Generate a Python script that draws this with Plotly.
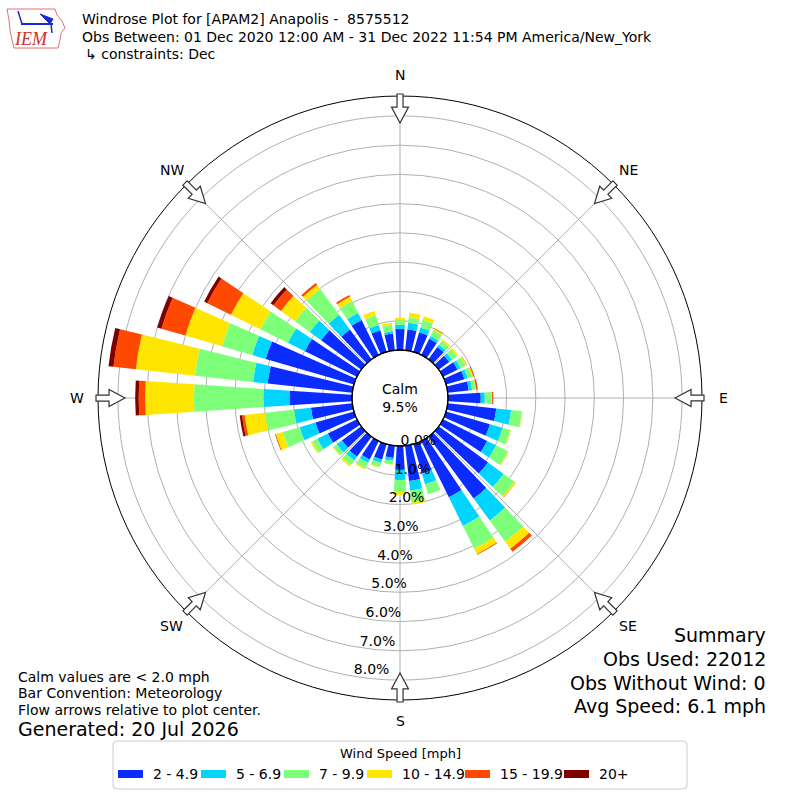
import math
import plotly.graph_objects as go

# Wind rose for Anapolis (APAM2), December obs 2020-2022
directions = list(range(0, 360, 10))
speed_bins = ["2 - 4.9", "5 - 6.9", "7 - 9.9", "10 - 14.9", "15 - 19.9", "20+"]
bin_colors = ["#0a2cff", "#00d4ff", "#7dff7a", "#ffe600", "#ff4800", "#800000"]

# percent of observations per 10 degree sector (0, 10, ..., 350)
pct_2_5 = [0.72, 0.72, 0.70, 0.62, 0.52, 0.45, 0.55, 0.65, 0.72, 1.12,
           1.67, 1.56, 1.68, 2.09, 2.62, 2.14, 1.05, 1.21, 0.82, 0.42,
           0.55, 0.70, 0.85, 0.82, 1.11, 1.37, 1.42, 2.14, 2.91, 3.14,
           1.98, 1.70, 1.26, 1.33, 0.77, 0.58]
pct_5_7 = [0.14, 0.23, 0.17, 0.10, 0.10, 0.12, 0.12, 0.12, 0.12, 0.14,
           0.51, 0.45, 0.34, 0.66, 0.93, 1.09, 0.38, 0.33, 0.34, 0.10,
           0.12, 0.13, 0.15, 0.22, 0.40, 0.56, 0.58, 0.89, 0.50, 0.48,
           0.65, 0.48, 0.62, 0.27, 0.19, 0.08]
pct_7_10 = [0.16, 0.18, 0.27, 0.22, 0.16, 0.20, 0.18, 0.15, 0.12, 0.21,
            0.37, 0.28, 0.46, 0.46, 0.89, 0.87, 0.36, 0.40, 0.40, 0.12,
            0.15, 0.20, 0.20, 0.14, 0.19, 0.60, 1.00, 2.37, 2.00, 1.08,
            1.05, 0.62, 1.10, 0.45, 0.34, 0.22]
pct_10_15 = [0.08, 0.16, 0.13, 0.06, 0.06, 0.06, 0.05, 0.05, 0.02, 0.04,
             0.02, 0.02, 0.02, 0.05, 0.30, 0.20, 0.00, 0.07, 0.11, 0.01,
             0.03, 0.05, 0.06, 0.03, 0.06, 0.25, 0.70, 1.67, 2.03, 1.30,
             1.12, 0.60, 0.17, 0.17, 0.16, 0.07]
pct_15_20 = [0.00, 0.00, 0.00, 0.02, 0.00, 0.00, 0.01, 0.03, 0.04, 0.04,
             0.00, 0.00, 0.00, 0.01, 0.13, 0.03, 0.00, 0.00, 0.00, 0.00,
             0.00, 0.00, 0.00, 0.00, 0.00, 0.03, 0.09, 0.22, 0.77, 0.85,
             0.90, 0.32, 0.08, 0.06, 0.00, 0.00]
pct_20_up = [0.00, 0.00, 0.00, 0.00, 0.00, 0.00, 0.00, 0.00, 0.01, 0.00,
             0.00, 0.00, 0.00, 0.00, 0.00, 0.00, 0.00, 0.00, 0.00, 0.00,
             0.00, 0.00, 0.00, 0.00, 0.00, 0.00, 0.08, 0.12, 0.17, 0.15,
             0.12, 0.12, 0.00, 0.00, 0.00, 0.00]
series = [pct_2_5, pct_5_7, pct_7_10, pct_10_15, pct_15_20, pct_20_up]

radial_ticks = [0, 1, 2, 3, 4, 5, 6, 7, 8]
compass = ["N", "NE", "E", "SE", "S", "SW", "W", "NW"]
calm_pct = 9.5

FONT = "DejaVu Sans"
W = H = 800
CX, CY = 400, 398      # plot centre in pixels
R_OUT = 302            # outer circle radius
R_HOLE = 48            # calm circle radius


def px(x):
    return x / W


def py(y):
    return 1 - y / H


def note(x, y, text, size, xanchor="center", **kw):
    return dict(x=px(x), y=py(y), xref="paper", yref="paper", text=text,
                showarrow=False, xanchor=xanchor, yanchor="middle",
                font=dict(size=size, **kw))


fig = go.Figure()
for name, color, vals in zip(speed_bins, bin_colors, series):
    fig.add_trace(go.Barpolar(
        r=vals, theta=directions, name=name, width=7.6,
        marker=dict(color=color, line=dict(width=0)),
        showlegend=False, hoverinfo="skip",
    ))

fig.update_layout(
    width=W, height=H,
    margin=dict(l=0, r=0, t=0, b=0),
    paper_bgcolor="white",
    font=dict(family=FONT, size=13, color="black"),
    polar=dict(
        domain=dict(x=[px(CX - R_OUT), px(CX + R_OUT)],
                    y=[py(CY + R_OUT), py(CY - R_OUT)]),
        hole=R_HOLE / R_OUT,
        bgcolor="white",
        barmode="stack",
        radialaxis=dict(
            range=[0, 8.68], tickvals=radial_ticks,
            # trailing blank line lifts each label a little above its ring
            ticktext=["%.1f%%<br> " % t for t in radial_ticks],
            showline=False, ticks="", angle=-101.5, side="counterclockwise",
            tickangle=-101.5,
            gridcolor="#b0b0b0", gridwidth=1,
            tickfont=dict(size=14, color="black"),
        ),
        angularaxis=dict(
            direction="clockwise", rotation=90,
            tickvals=list(range(0, 360, 45)), showticklabels=False, ticks="",
            gridcolor="#b0b0b0", gridwidth=1,
            showline=True, linecolor="black", linewidth=1,
        ),
    ),
)

shapes = []
annotations = []

# calm circle
shapes.append(dict(type="circle", xref="paper", yref="paper",
                   x0=px(CX - R_HOLE), x1=px(CX + R_HOLE),
                   y0=py(CY + R_HOLE), y1=py(CY - R_HOLE),
                   line=dict(color="black", width=1.3), fillcolor="rgba(0,0,0,0)"))
annotations.append(note(CX, CY, "Calm<br>%.1f%%" % calm_pct, 14))


# flow arrows and compass labels
def arrow_path(deg):
    t = math.radians(deg)
    ux, uy = math.sin(t), -math.cos(t)      # outward
    vx, vy = math.cos(t), math.sin(t)       # sideways
    pts = [(304, -3), (291, -3), (291, -8.5), (275, 0), (291, 8.5), (291, 3), (304, 3)]
    coords = []
    for r, v in pts:
        x = CX + r * ux + v * vx
        y = CY + r * uy + v * vy
        coords.append("%.4f,%.4f" % (px(x), py(y)))
    return "M" + " L".join(coords) + " Z"


for i, lab in enumerate(compass):
    deg = i * 45
    shapes.append(dict(type="path", xref="paper", yref="paper", path=arrow_path(deg),
                       fillcolor="white", line=dict(color="#333333", width=1.2)))
    t = math.radians(deg)
    annotations.append(note(CX + 323 * math.sin(t), CY - 323 * math.cos(t), lab, 14))

# titles
title_lines = [
    (80, 19, "Windrose Plot for [APAM2] Anapolis -  8575512"),
    (80, 37, "Obs Between: 01 Dec 2020 12:00 AM - 31 Dec 2022 11:54 PM America/New_York"),
    (83, 54, "\u21b3 constraints: Dec"),
]
for x, y, txt in title_lines:
    annotations.append(note(x, y, txt, 14, xanchor="left"))

# footer notes
notes = [
    (677, "Calm values are < 2.0 mph", 14),
    (693, "Bar Convention: Meteorology", 14),
    (710, "Flow arrows relative to plot center.", 14),
    (729, "Generated: 20 Jul 2026", 19),
]
for y, txt, size in notes:
    annotations.append(note(16, y, txt, size, xanchor="left"))

summary = [(635, "Summary"), (659, "Obs Used: 22012"),
           (683, "Obs Without Wind: 0"), (706, "Avg Speed: 6.1 mph")]
for y, txt in summary:
    annotations.append(note(768, y, txt, 19, xanchor="right"))

# legend box drawn by hand (wide flat swatches)
lx0, lx1, ly0, ly1, rad = 113, 687, 741, 789, 4
box = ("M%f,%f L%f,%f Q%f,%f %f,%f L%f,%f Q%f,%f %f,%f L%f,%f Q%f,%f %f,%f L%f,%f Q%f,%f %f,%f Z" % (
    px(lx0 + rad), py(ly0), px(lx1 - rad), py(ly0), px(lx1), py(ly0), px(lx1), py(ly0 + rad),
    px(lx1), py(ly1 - rad), px(lx1), py(ly1), px(lx1 - rad), py(ly1),
    px(lx0 + rad), py(ly1), px(lx0), py(ly1), px(lx0), py(ly1 - rad),
    px(lx0), py(ly0 + rad), px(lx0), py(ly0), px(lx0 + rad), py(ly0)))
shapes.append(dict(type="path", xref="paper", yref="paper", path=box,
                   fillcolor="white", line=dict(color="#cccccc", width=1)))
annotations.append(note(400, 753, "Wind Speed [mph]", 13))
swatch_x = [118, 201, 284, 367, 465, 564]
for x, name, color in zip(swatch_x, speed_bins, bin_colors):
    shapes.append(dict(type="rect", xref="paper", yref="paper",
                       x0=px(x), x1=px(x + 25), y0=py(778), y1=py(770),
                       fillcolor=color, line=dict(width=0)))
    annotations.append(note(x + 33, 774, name, 14, xanchor="left"))

# IEM logo (rough)
iowa = [(7, 9), (55, 9), (57, 15), (62, 21), (65, 28), (61, 33), (60, 40),
        (58, 48), (14, 48), (12, 40), (10, 30), (9, 20)]
shapes.append(dict(type="path", xref="paper", yref="paper",
                   path="M" + " L".join("%f,%f" % (px(a), py(b)) for a, b in iowa) + " Z",
                   line=dict(color="#e07070", width=1)))
shapes.append(dict(type="line", xref="paper", yref="paper",
                   x0=px(21), y0=py(24), x1=px(53), y1=py(24),
                   line=dict(color="#1a2ad0", width=2)))
shapes.append(dict(type="line", xref="paper", yref="paper",
                   x0=px(18), y0=py(11), x1=px(22), y1=py(24),
                   line=dict(color="#1a2ad0", width=1.5)))
shapes.append(dict(type="path", xref="paper", yref="paper",
                   path="M%f,%f L%f,%f L%f,%f Z" % (px(40), py(14), px(53), py(19), px(50), py(24)),
                   fillcolor="#1a2ad0", line=dict(color="#1a2ad0", width=1)))
shapes.append(dict(type="line", xref="paper", yref="paper",
                   x0=px(51), y0=py(24), x1=px(52), y1=py(33),
                   line=dict(color="#1a2ad0", width=1.5)))
annotations.append(note(31, 39, "<i>IEM</i>", 18, family="Liberation Serif", color="#d03030"))

fig.update_layout(shapes=shapes, annotations=annotations)
# page body has an 8px default margin; drop it so the figure sits at 0,0
fig.write_html("out.html", config={"displayModeBar": False},
               post_script="document.body.style.margin = '0';")
